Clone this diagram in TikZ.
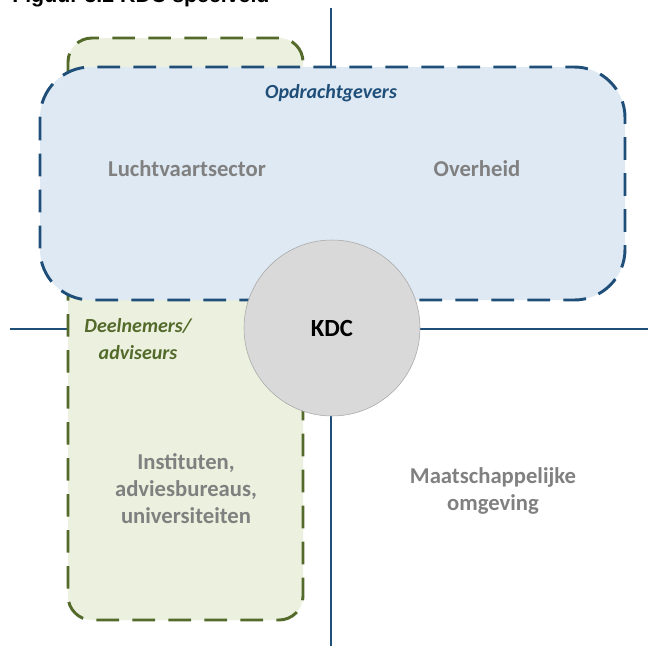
\documentclass[tikz,border=0pt]{standalone}
\usepackage{fontspec}
\setmainfont{Carlito}
\newfontfamily\titlefont{Liberation Sans}
\usepackage{tikz}
\usetikzlibrary{calc}
\definecolor{kdcnavy}{HTML}{1F4E79}
\definecolor{kdcbluefill}{HTML}{DEE9F3}
\definecolor{kdcolive}{HTML}{546A2B}
\definecolor{kdcgreenfill}{HTML}{EBF1DE}
\definecolor{kdcgray}{HTML}{808080}
\tikzset{
  fieldbox/.style={line width=2.2pt, dash pattern=on 17pt off 10pt},
  axisline/.style={line width=1pt, color=kdcnavy},
  fieldlabel/.style={font=\fontsize{17}{20.3}\selectfont\bfseries, text=kdcgray, align=center},
  grouplabel/.style={font=\fontsize{15}{20}\selectfont\bfseries\itshape, align=center},
}

\begin{document}
\begin{tikzpicture}[x=0.75pt, y=-0.75pt]
		%%%%% START %%%%%
		\useasboundingbox (0, 0) rectangle (648, 646);
		
		\node[anchor=base west, inner sep=0pt, font=\titlefont\fontsize{16}{18}\selectfont\bfseries] (title) at (12, 2.5) {Figuur 3.2 KDC speelveld};
		
		\coordinate (top) at (331, 8);
		\coordinate (bottom) at (331, 646);
		\coordinate (left) at (10, 329);
		\coordinate (right) at (648, 329);
		\draw[axisline] (top) -- (bottom);
		\draw[axisline] (left) -- (right);
		
		\draw[fieldbox, color=kdcolive, fill=kdcgreenfill, rounded corners=18pt] (68, 38) rectangle (303, 620);
		\draw[fieldbox, color=kdcnavy, fill=kdcbluefill, rounded corners=38pt] (40, 67) rectangle (625, 300);
		
		\node[circle, draw=black!35, line width=0.4pt, fill=black!15, minimum size=132pt, inner sep=0pt,
		      font=\fontsize{18.5}{22}\selectfont\bfseries] (kdc) at (332, 328) {KDC};
		
		\node[grouplabel, text=kdcnavy] (opdracht) at (331, 93) {Opdrachtgevers};
		\node[fieldlabel] (lucht) at (187, 169) {Luchtvaartsector};
		\node[fieldlabel] (overheid) at (477, 169) {Overheid};
		
		\node[grouplabel, text=kdcolive] (deelnemers) at (138, 339) {Deelnemers/\\adviseurs};
		\node[fieldlabel] (instituten) at (186, 489) {Instituten,\\adviesbureaus,\\universiteiten};
		\node[fieldlabel] (omgeving) at (493, 491) {Maatschappelijke\\omgeving};
		
		%%%%% END %%%%%
	\end{tikzpicture}
\end{document}
